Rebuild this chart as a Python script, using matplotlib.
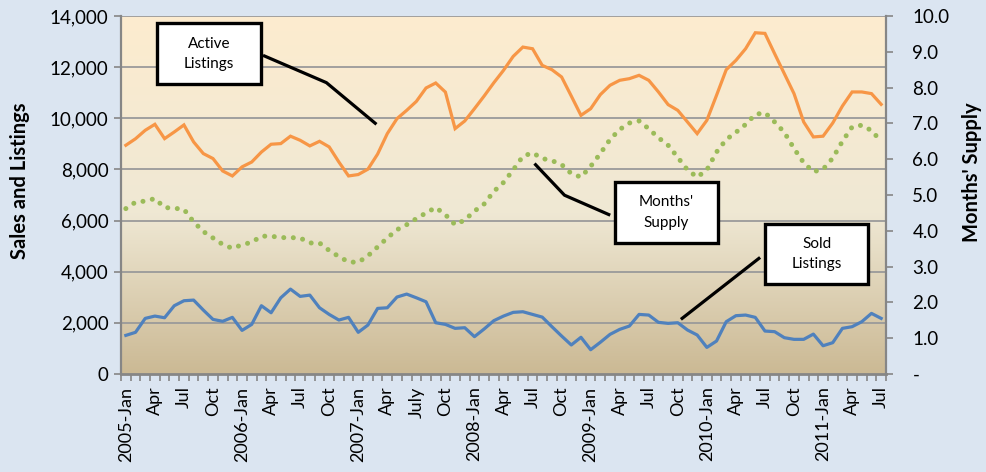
"""
Active listings, sold listings and months' supply, 2005-Jan to 2011-Jul
"""

import numpy as np
import matplotlib
matplotlib.use('Agg')
import matplotlib.pyplot as plt
import matplotlib.ticker as mticker
from matplotlib.colors import LinearSegmentedColormap
from matplotlib.patches import Rectangle

plt.rcParams['font.family'] = ['Lato', 'DejaVu Sans']

# monthly categories 2005-Jan .. 2011-Jul
years = [2005, 2006, 2007, 2008, 2009, 2010, 2011]
month_names = ['Jan', 'Feb', 'Mar', 'Apr', 'May', 'Jun', 'Jul', 'Aug', 'Sep', 'Oct', 'Nov', 'Dec']
months = ['%d-%s' % (y, m) for y in years for m in month_names][:79]

active = [8945, 9200, 9530, 9765, 9205, 9465, 9740, 9075, 8620, 8425, 7940, 7745,
          8100, 8290, 8680, 8985, 9010, 9300, 9140, 8920, 9100, 8880, 8290, 7745,
          7800, 8010, 8600, 9400, 9985, 10310, 10660, 11185, 11380, 11025, 9595, 9895,
          10375, 10870, 11390, 11875, 12420, 12785, 12720, 12070, 11900, 11615, 10870, 10115,
          10375, 10925, 11290, 11485, 11550, 11680, 11485, 11030, 10535, 10310, 9855, 9400,
          9920, 10900, 11900, 12265, 12720, 13345, 13320, 12525, 11745, 10965, 9855, 9270,
          9300, 9815, 10480, 11030, 11030, 10965, 10545]

sold = [1510, 1630, 2175, 2265, 2200, 2670, 2865, 2890, 2500, 2135, 2060, 2215,
        1705, 1940, 2670, 2395, 2980, 3320, 3035, 3085, 2590, 2330, 2110, 2215,
        1630, 1915, 2565, 2590, 3010, 3125, 2980, 2825, 2005, 1940, 1785, 1810,
        1460, 1760, 2085, 2265, 2410, 2435, 2330, 2225, 1850, 1485, 1135, 1435,
        950, 1240, 1550, 1745, 1875, 2330, 2305, 2020, 1980, 2005, 1720, 1525,
        1040, 1290, 2045, 2280, 2305, 2215, 1680, 1655, 1420, 1355, 1355, 1560,
        1105, 1225, 1785, 1850, 2045, 2370, 2175]

supply = [4.62, 4.80, 4.83, 4.90, 4.65, 4.63, 4.60, 4.25, 3.98, 3.80, 3.62, 3.51,
          3.61, 3.68, 3.85, 3.85, 3.81, 3.81, 3.80, 3.66, 3.66, 3.45, 3.28, 3.13,
          3.12, 3.30, 3.55, 3.80, 4.03, 4.17, 4.34, 4.50, 4.65, 4.45, 4.17, 4.30,
          4.55, 4.75, 5.10, 5.35, 5.70, 6.08, 6.18, 6.02, 5.96, 5.85, 5.60, 5.50,
          5.80, 6.16, 6.55, 6.83, 7.01, 7.07, 6.85, 6.60, 6.39, 6.05, 5.70, 5.50,
          5.70, 6.20, 6.55, 6.75, 6.97, 7.25, 7.30, 7.04, 6.75, 6.30, 5.90, 5.65,
          5.72, 6.03, 6.50, 6.90, 6.95, 6.80, 6.50]

tick_labels = ['2005-Jan', 'Apr', 'Jul', 'Oct', '2006-Jan', 'Apr', 'Jul', 'Oct',
               '2007-Jan', 'Apr', 'July', 'Oct', '2008-Jan', 'Apr', 'Jul', 'Oct',
               '2009-Jan', 'Apr', 'Jul', 'Oct', '2010-Jan', 'Apr', 'Jul', 'Oct',
               '2011-Jan', 'Apr', 'Jul']


def main():
 x = np.arange(len(months))
 fig = plt.figure(figsize=(9.87, 4.72), dpi=100)
 fig.patch.set_facecolor('#dbe5f1')
 ax = fig.add_axes([121/987., 1 - 374/472., (886-121)/987., (374-16)/472.])
 ax.set_xlim(-0.5, len(months) - 0.5)
 ax.set_ylim(0, 14000)

 # plot area gradient
 cmap = LinearSegmentedColormap.from_list('bg', [(0, '#cbb994'), (0.45, '#efe8d4'), (1, '#fdeccf')])
 grad = np.linspace(0, 1, 256).reshape(-1, 1)
 ax.imshow(grad, extent=(-0.5, len(months) - 0.5, 0, 14000), origin='lower',
           aspect='auto', cmap=cmap, zorder=0)

 for g in range(2000, 14001, 2000):
  ax.axhline(g, color='#9a9a9a', lw=1.3, zorder=1)

 ax.plot(x, active, color='#f79646', lw=2.3, zorder=4, solid_joinstyle='miter')
 ax.plot(x, sold, color='#4f81bd', lw=2.3, zorder=4)

 ax2 = ax.twinx()
 ax2.set_ylim(0, 10)
 ax2.plot(x, supply, color='#9bbb59', lw=3.6, linestyle=(0, (0.01, 1.9)),
          dash_capstyle='round', zorder=4)

 # axes styling
 for a in (ax, ax2):
  for s in a.spines.values():
   s.set_visible(False)
 ax.spines['left'].set_visible(True)
 ax.spines['left'].set_color('#868686')
 ax.spines['left'].set_linewidth(1.6)
 ax.spines['bottom'].set_visible(True)
 ax.spines['bottom'].set_color('#868686')
 ax.spines['bottom'].set_linewidth(2)
 ax2.spines['right'].set_visible(True)
 ax2.spines['right'].set_color('#868686')
 ax2.spines['right'].set_linewidth(1.6)

 ax.set_yticks(np.arange(0, 14001, 2000))
 ax.yaxis.set_major_formatter(mticker.FuncFormatter(lambda v, p: '{:,.0f}'.format(v)))
 ax.tick_params(axis='y', length=5, width=1.2, color='#868686', labelsize=13.5, pad=4)

 ax2.set_yticks(np.arange(0, 11, 1))
 ax2.set_yticklabels(['-'] + ['%.1f' % v for v in range(1, 11)])
 ax2.tick_params(axis='y', length=5, width=1.2, color='#868686', labelsize=13.5, pad=14)

 ax.set_xticks(x[::3])
 ax.set_xticklabels(tick_labels, rotation=90)
 ax.set_xticks(np.arange(-0.5, len(months), 1), minor=True)
 ax.tick_params(axis='x', which='major', length=0, labelsize=13, pad=9)
 ax.tick_params(axis='x', which='minor', length=5, width=1.2, color='#868686')

 fig.text(0.02, 0.617, 'Sales and Listings', rotation=90, ha='center', va='center',
          fontsize=14.5, fontweight='bold')
 fig.text(0.985, 0.635, "Months' Supply", rotation=90, ha='center', va='center',
          fontsize=14.5, fontweight='bold')

 # callout boxes
 boxes = [((3.22, 11327), 10.75, 2383, 'Active\nListings',
           [(14.17, 12460), (20.71, 11394), (25.88, 9765)]),
          ((50.5, 5117), 10.65, 2383, "Months'\nSupply",
           [(42.2, 8230), (45.3, 6992), (50.02, 6211)]),
          ((66.03, 3515), 10.64, 2344, 'Sold\nListings',
           [(57.32, 2137), (65.5, 4558)])]
 for (bx, by), bw, bh, label, path in boxes:
  px, py = zip(*path)
  ax.plot(px, py, color='black', lw=2.3, zorder=6, solid_capstyle='butt')
  ax.add_patch(Rectangle((bx, by), bw, bh, facecolor='white', edgecolor='black',
                         lw=2.4, zorder=7))
  ax.text(bx + bw/2., by + bh/2., label, ha='center', va='center', fontsize=11,
          linespacing=1.6, zorder=8)

 ax2.set_zorder(ax.get_zorder() + 1)
 ax2.patch.set_visible(False)

 plt.savefig('out.png', dpi=100, facecolor=fig.get_facecolor())

if __name__ == '__main__':
    main()
